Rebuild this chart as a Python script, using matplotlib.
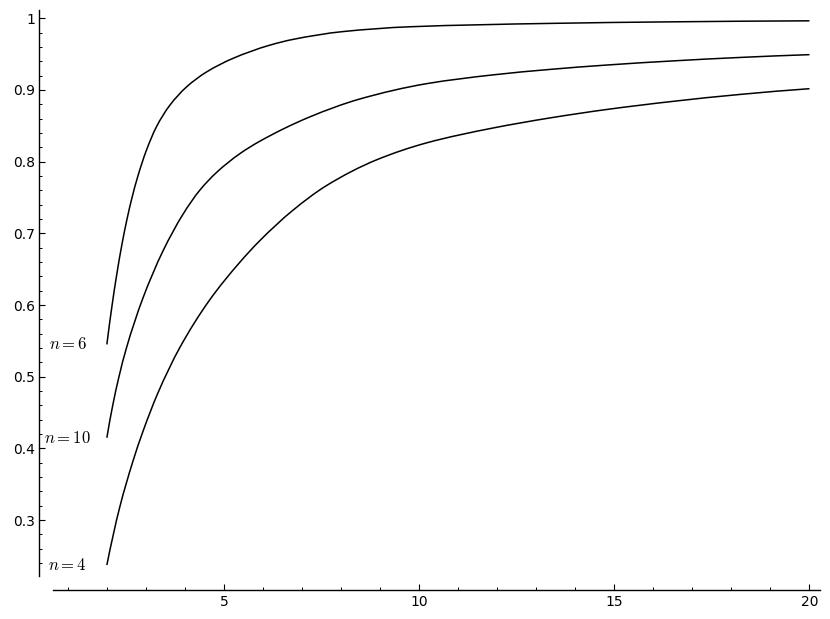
import matplotlib
matplotlib.use("Agg")
import numpy as np
import matplotlib.pyplot as plt
from matplotlib.path import Path
from matplotlib.patches import PathPatch
from matplotlib.ticker import MultipleLocator, FixedLocator, FixedFormatter

plt.rcParams['mathtext.fontset'] = 'cm'
plt.rcParams['font.family'] = ['DejaVu Sans']

# curve n=6
x_n6 = [2.0, 2.128, 2.256, 2.385, 2.513, 2.641, 2.795, 3.01, 3.267, 3.608, 4.036, 4.549,
        5.231, 6.172, 6.769, 8.051, 9.762, 13.351, 16.513, 20.0]
y_n6 = [0.545, 0.5975, 0.6436, 0.6842, 0.719, 0.7491, 0.7799, 0.8154, 0.8483, 0.8783,
        0.904, 0.925, 0.9441, 0.9625, 0.9706, 0.9815, 0.9882, 0.9929, 0.9951, 0.9965]

# curve n=10
x_n10 = [2.0, 2.154, 2.308, 2.497, 2.923, 3.436, 3.949, 4.377, 4.805, 5.403, 5.915, 7.197,
         8.479, 10.19, 11.897, 13.351, 14.805, 16.513, 18.223, 20.0]
y_n10 = [0.4148, 0.461, 0.4995, 0.5392, 0.6095, 0.6752, 0.7265, 0.7599, 0.7847, 0.811,
         0.8284, 0.8624, 0.8874, 0.9088, 0.9211, 0.9287, 0.9348, 0.9406, 0.9454, 0.9493]

# curve n=4
x_n4 = [2.0, 2.326, 2.667, 2.923, 3.308, 3.864, 4.633, 5.403, 5.915, 6.769, 7.626, 8.908,
        10.19, 11.897, 13.351, 14.805, 16.513, 18.223, 20.0]
y_n4 = [0.2372, 0.3171, 0.3819, 0.4234, 0.4773, 0.5401, 0.607, 0.6594, 0.6896, 0.7323,
        0.7666, 0.8025, 0.8262, 0.847, 0.861, 0.8728, 0.8842, 0.8938, 0.9018]

labels = ["$n=6$", "$n=10$", "$n=4$"]
label_x = [1, 1, 1]
label_y = [0.545, 0.415, 0.237]

x_ticks = [5, 10, 15, 20]
x_ticklabels = ["5", "10", "15", "20"]
y_ticks = [0.3, 0.4, 0.5, 0.6, 0.7, 0.8, 0.9, 1.0]
y_ticklabels = ["0.3", "0.4", "0.5", "0.6", "0.7", "0.8", "0.9", "1"]


def smooth_path(xs, ys):
    """Shape-preserving cubic Hermite path (drawn as Bezier segments) through the points."""
    x = np.asarray(xs, float)
    y = np.asarray(ys, float)
    h = np.diff(x)
    d = np.diff(y) / h
    n = len(x)
    m = np.zeros(n)
    for k in range(1, n - 1):
        if d[k - 1] * d[k] > 0:
            w1 = 2 * h[k] + h[k - 1]
            w2 = h[k] + 2 * h[k - 1]
            m[k] = (w1 + w2) / (w1 / d[k - 1] + w2 / d[k])
    def end(h0, h1, d0, d1):
        s = ((2 * h0 + h1) * d0 - h0 * d1) / (h0 + h1)
        if np.sign(s) != np.sign(d0):
            s = 0.0
        elif np.sign(d0) != np.sign(d1) and abs(s) > abs(3 * d0):
            s = 3 * d0
        return s
    m[0] = end(h[0], h[1], d[0], d[1])
    m[-1] = end(h[-1], h[-2], d[-1], d[-2])
    verts = [(x[0], y[0])]
    codes = [Path.MOVETO]
    for k in range(n - 1):
        verts += [(x[k] + h[k] / 3, y[k] + m[k] * h[k] / 3),
                  (x[k + 1] - h[k] / 3, y[k + 1] - m[k + 1] * h[k] / 3),
                  (x[k + 1], y[k + 1])]
        codes += [Path.CURVE4] * 3
    return Path(verts, codes)


fig = plt.figure(figsize=(8.3, 6.19), dpi=100)
ax = fig.add_axes([53/830, 43/619, (820-53)/830, (576-10)/619])

for xs, ys in [(x_n6, y_n6), (x_n10, y_n10), (x_n4, y_n4)]:
    ax.add_patch(PathPatch(smooth_path(xs, ys), fill=False, edgecolor='black',
                           linewidth=1.1, capstyle='butt'))

for t, tx, ty in zip(labels, label_x, label_y):
    ax.text(tx, ty, t, ha='center', va='center', fontsize=12, color='black')

ax.set_xlim(0.62, 20.27)
ax.set_ylim(0.2219, 1.0116)

for s in ['top', 'right']:
    ax.spines[s].set_visible(False)
for s in ['left', 'bottom']:
    ax.spines[s].set_position(('outward', 10))
    ax.spines[s].set_linewidth(1.0)

ax.xaxis.set_major_locator(FixedLocator(x_ticks))
ax.xaxis.set_major_formatter(FixedFormatter(x_ticklabels))
ax.yaxis.set_major_locator(FixedLocator(y_ticks))
ax.yaxis.set_major_formatter(FixedFormatter(y_ticklabels))
ax.xaxis.set_minor_locator(MultipleLocator(1))
ax.yaxis.set_minor_locator(MultipleLocator(0.02))

ax.tick_params(which='major', direction='in', length=4, width=0.8, labelsize=10, color='black')
ax.tick_params(which='minor', direction='in', length=2.2, width=0.7, color='black')
ax.tick_params(axis='x', which='major', pad=4)
ax.tick_params(axis='y', which='major', pad=3)

fig.savefig("out.png", dpi=100)
